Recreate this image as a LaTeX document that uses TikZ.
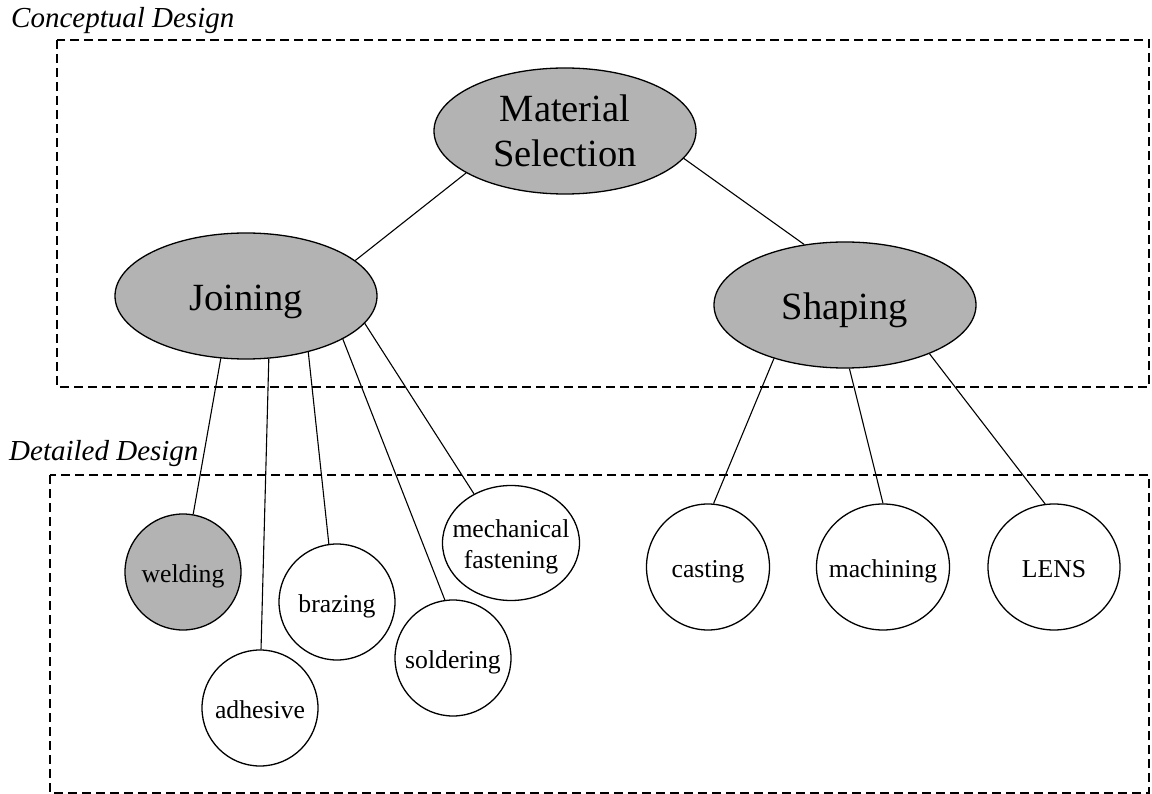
\documentclass[tikz,border=0pt]{standalone}
\usepackage{fontspec}
\setmainfont{Liberation Serif}
\usetikzlibrary{shapes.geometric}
\definecolor{nodegray}{RGB}{179,179,179}
\tikzset{
  bigfont/.style={font=\fontsize{38.5}{45.6}\selectfont},
  smallfont/.style={font=\fontsize{25.7}{30.6}\selectfont},
  bignode/.style={ellipse, draw, line width=1.3pt, fill=nodegray, inner sep=0pt,
    minimum width=262pt, minimum height=126pt, align=center, bigfont},
  oneline/.style={text height=30pt, text depth=0pt},
  leaf/.style={ellipse, draw, line width=1.3pt, fill=white, inner ysep=0pt, inner xsep=-30pt,
    minimum width=116pt, minimum height=116pt, align=center, smallfont},
  leafone/.style={text height=21pt, text depth=0pt},
  conn/.style={draw, line width=1.1pt},
  dashedbox/.style={draw, line width=1.8pt, dash pattern=on 9pt off 5pt},
  zonelabel/.style={anchor=base west, inner sep=0pt, font=\fontsize{29}{34}\selectfont\itshape}
}
\begin{document}
\begin{tikzpicture}[x=1pt, y=-1pt]
\useasboundingbox (0,0) rectangle (1152,794);
% zones
\draw[dashedbox] (57,40) rectangle (1149,387);
\draw[dashedbox] (50,475) rectangle (1149,793);
\node[zonelabel] (lconc) at (11,28) {Conceptual Design};
\node[zonelabel] (ldet) at (9,460) {Detailed Design};
% top level
\node[bignode] (ms) at (565,131) {Material\\Selection};
\node[bignode, oneline] (jo) at (246,296) {Joining};
\node[bignode, oneline] (sh) at (845,305) {Shaping};
% leaves
\node[leaf, leafone, fill=nodegray] (we) at (183,572) {welding};
\node[leaf, leafone] (ad) at (260,708) {adhesive};
\node[leaf, leafone] (br) at (337,602) {brazing};
\node[leaf, leafone] (so) at (453,658) {soldering};
\node[leaf, minimum width=137pt, minimum height=115pt, text height=50pt, text depth=0pt] (me) at (511,543) {mechanical\\fastening};
\node[leaf, leafone, minimum width=123pt, minimum height=126pt] (ca) at (708,567) {casting};
\node[leaf, leafone, minimum width=133pt, minimum height=126pt] (mc) at (883,567) {machining};
\node[leaf, leafone, minimum width=132pt, minimum height=126pt] (le) at (1054,567) {LENS};
% connectors
\draw[conn] (ms.203.8) -- (jo.18.9);
\draw[conn] (ms.347.9) -- (sh.124.7);
\draw[conn] (jo.248.4) -- (we.80.2);
\draw[conn] (jo.290.9) -- (ad.89);
\draw[conn] (jo.318.9) -- (br.98.7);
\draw[conn] (jo.336.9) -- (so.98.8);
\draw[conn] (jo.347.9) -- (me.127.2);
\draw[conn] (sh.217.9) -- (ca.85.5);
\draw[conn] (sh.274.5) -- (mc.90);
\draw[conn] (sh.330.5) -- (le.98.1);
\end{tikzpicture}
\end{document}
